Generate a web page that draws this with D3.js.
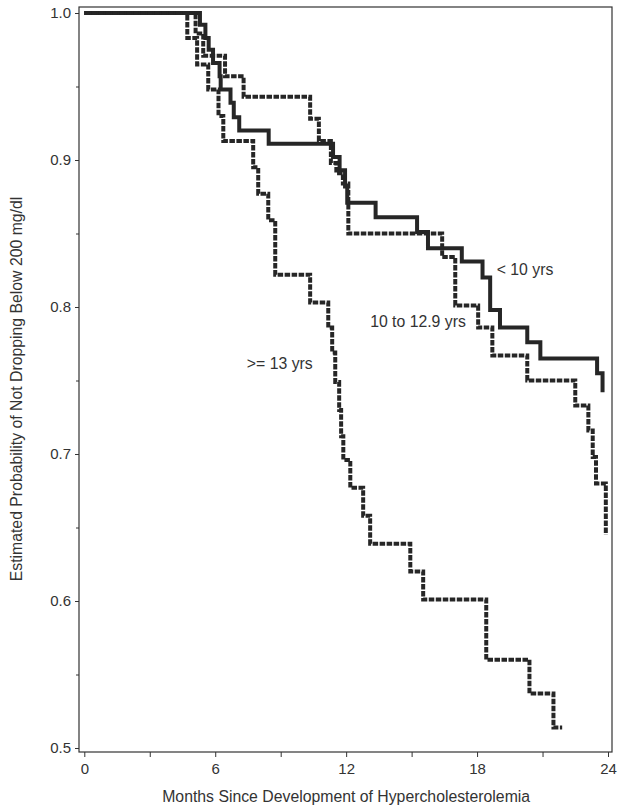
<!DOCTYPE html>
<html>
<head>
<meta charset="utf-8">
<script src="https://cdn.jsdelivr.net/npm/d3@7"></script>
<style>
  html, body { margin: 0; padding: 0; background: #fff; }
  svg { display: block; }
  text { font-family: "Liberation Sans", Arial, sans-serif; fill: #333; }
</style>
</head>
<body>
<svg id="chart" width="621" height="812"></svg>
<script>
// ---- data ----
const lt10Times = [0, 5.3, 5.55, 5.7, 5.9, 6.2, 6.25, 6.7, 6.85, 7.1, 8.45, 11.4, 11.7, 11.95, 12.05, 13.35, 15.25, 15.75, 17.3, 18.25, 18.6, 19.05, 20.3, 20.9, 23.5, 23.75];
const lt10Surv  = [1, 0.992, 0.983, 0.975, 0.966, 0.957, 0.948, 0.939, 0.929, 0.920, 0.911, 0.902, 0.893, 0.882, 0.871, 0.861, 0.851, 0.840, 0.831, 0.820, 0.798, 0.786, 0.776, 0.765, 0.755, 0.742];

const midTimes = [0, 5.1, 5.45, 6.45, 7.3, 10.35, 10.75, 11.3, 11.55, 11.85, 12.1, 16.4, 17.0, 18.05, 18.7, 20.3, 22.5, 23.1, 23.3, 23.45, 23.9];
const midSurv  = [1, 0.986, 0.971, 0.957, 0.943, 0.928, 0.913, 0.898, 0.891, 0.884, 0.850, 0.834, 0.801, 0.786, 0.767, 0.750, 0.733, 0.716, 0.698, 0.680, 0.645];

const ge13Times = [0, 4.72, 5.17, 5.68, 6.15, 6.37, 7.74, 7.97, 8.43, 8.75, 10.35, 11.18, 11.36, 11.5, 11.68, 11.77, 11.87, 12.19, 12.78, 13.1, 14.94, 15.53, 18.42, 20.4, 21.5, 21.9];
const ge13Surv  = [1, 0.983, 0.965, 0.948, 0.930, 0.913, 0.895, 0.877, 0.859, 0.822, 0.803, 0.786, 0.769, 0.749, 0.730, 0.712, 0.696, 0.677, 0.658, 0.639, 0.620, 0.601, 0.560, 0.537, 0.514, 0.514];

const seriesNames = ["< 10 yrs", "10 to 12.9 yrs", ">= 13 yrs"];
const xTickValues = [0, 6, 12, 18, 24];
const xMinorTicks = [3, 9, 15, 21];
const yTickValues = [0.5, 0.6, 0.7, 0.8, 0.9, 1.0];
const yMinorTicks = [0.55, 0.65, 0.75, 0.85, 0.95];
const xTitle = "Months Since Development of Hypercholesterolemia";
const yTitle = "Estimated Probability of Not Dropping Below 200 mg/dl";

// ---- layout ----
const svg = d3.select("#chart");
const frame = { left: 79, right: 612, top: 7, bottom: 752 };
const x = d3.scaleLinear().domain([0, 24]).range([84.3, 608]);
const y = d3.scaleLinear().domain([0.5, 1.0]).range([748, 13]);
const ink = "#333";
const fontFam = "'Liberation Sans', Arial, sans-serif";

// frame
svg.append("rect")
  .attr("x", frame.left).attr("y", frame.top)
  .attr("width", frame.right - frame.left).attr("height", frame.bottom - frame.top)
  .attr("fill", "none").attr("stroke", ink).attr("stroke-width", 1.2);

// y axis
const yAxis = svg.append("g").attr("transform", `translate(${frame.left},0)`)
  .call(d3.axisLeft(y).tickValues(yTickValues).tickFormat(d3.format(".1f")).tickSize(4).tickPadding(4));
yAxis.select(".domain").remove();
yAxis.selectAll(".tick line").attr("stroke", ink);
yAxis.selectAll(".tick text").style("font-size", "15px").attr("fill", ink).style("font-family", fontFam);
const yMinor = svg.append("g").attr("transform", `translate(${frame.left},0)`)
  .call(d3.axisLeft(y).tickValues(yMinorTicks).tickFormat("").tickSize(3));
yMinor.select(".domain").remove();
yMinor.selectAll(".tick line").attr("stroke", ink);

// x axis
const xAxis = svg.append("g").attr("transform", `translate(0,${frame.bottom})`)
  .call(d3.axisBottom(x).tickValues(xTickValues).tickFormat(d3.format("d")).tickSize(5).tickPadding(6));
xAxis.select(".domain").remove();
xAxis.selectAll(".tick line").attr("stroke", ink);
xAxis.selectAll(".tick text").style("font-size", "15px").attr("fill", ink).style("font-family", fontFam);
const xMinor = svg.append("g").attr("transform", `translate(0,${frame.bottom})`)
  .call(d3.axisBottom(x).tickValues(xMinorTicks).tickFormat("").tickSize(5));
xMinor.select(".domain").remove();
xMinor.selectAll(".tick line").attr("stroke", ink);

// titles
svg.append("text").attr("x", (x(0) + x(24)) / 2).attr("y", 802)
  .attr("text-anchor", "middle").style("font-size", "15.8px").text(xTitle);
svg.append("text")
  .attr("transform", `translate(22,389) rotate(-90)`)
  .attr("text-anchor", "middle").style("font-size", "15.8px").text(yTitle);

// curves
const line = d3.line().x(d => x(d[0])).y(d => y(d[1])).curve(d3.curveStepAfter);
const series = [
  { times: lt10Times, surv: lt10Surv, dash: null },
  { times: midTimes, surv: midSurv, dash: "5.5,1.5" },
  { times: ge13Times, surv: ge13Surv, dash: "5.5,1.5" }
];
series.forEach(s => {
  const pts = s.times.map((t, i) => [t, s.surv[i]]);
  svg.append("path").datum(pts)
    .attr("d", line)
    .attr("fill", "none")
    .attr("stroke", "#262626")
    .attr("stroke-width", 4)
    .attr("stroke-linejoin", "miter")
    .attr("stroke-dasharray", s.dash);
});

// curve labels
const labelPos = [
  { t: 18.9, p: 0.8215 },
  { t: 13.1, p: 0.7865 },
  { t: 7.45, p: 0.7575 }
];
seriesNames.forEach((name, i) => {
  svg.append("text")
    .attr("x", x(labelPos[i].t)).attr("y", y(labelPos[i].p))
    .style("font-size", "15.8px").text(name);
});
</script>
</body>
</html>
